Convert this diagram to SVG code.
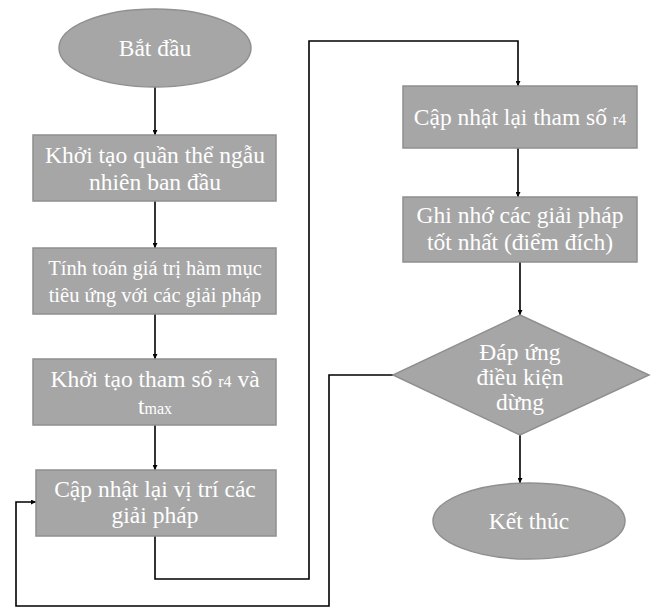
<svg xmlns="http://www.w3.org/2000/svg" width="656" height="607" viewBox="0 0 656 607">
<defs>
<marker id="ah" viewBox="0 0 10 10" refX="10" refY="5" markerWidth="5" markerHeight="5" orient="auto" markerUnits="userSpaceOnUse">
<path d="M0,0 L10,5 L0,10 z" fill="#000"/>
</marker>
<style>
.sh{fill:#a6a6a6;stroke:#8f8f8f;stroke-width:1.5}
.t{font-family:"Liberation Serif","Times New Roman",serif;fill:#fff;text-anchor:middle;font-size:23.5px}
.s{font-size:16px}
.c{fill:none;stroke:#000;stroke-width:1.6}
</style>
</defs>
<rect width="656" height="607" fill="#fff"/>
<g id="connectors">
<path class="c" d="M155,87 V135" marker-end="url(#ah)"/>
<path class="c" d="M155,201 V248" marker-end="url(#ah)"/>
<path class="c" d="M155,314 V359" marker-end="url(#ah)"/>
<path class="c" d="M155,425 V470" marker-end="url(#ah)"/>
<path class="c" d="M155,536 V579 H309 V41 H518 V86" marker-end="url(#ah)"/>
<path class="c" d="M518,148 V197" marker-end="url(#ah)"/>
<path class="c" d="M520,262 V315" marker-end="url(#ah)"/>
<path class="c" d="M520,435 V483" marker-end="url(#ah)"/>
<path class="c" d="M393,375 H329 V606 H16 V502 H36" marker-end="url(#ah)"/>
</g>
<g id="start">
<ellipse class="sh" cx="155" cy="48" rx="96" ry="39"/>
<text class="t" x="155" y="56">Bắt đầu</text>
</g>
<g id="init-pop">
<rect class="sh" x="33" y="135" width="243" height="66"/>
<text class="t" x="155" y="163">Khởi tạo quần thể ngẫu</text>
<text class="t" x="155" y="190">nhiên ban đầu</text>
</g>
<g id="eval">
<rect class="sh" x="33" y="248" width="243" height="66"/>
<text class="t" x="155" y="275" style="font-size:20.5px">Tính toán giá trị hàm mục</text>
<text class="t" x="155" y="302" style="font-size:20.5px">tiêu ứng với các giải pháp</text>
</g>
<g id="init-param">
<rect class="sh" x="33" y="359" width="243" height="66"/>
<text class="t" x="155" y="387">Khởi tạo tham số <tspan class="s">r4</tspan> và</text>
<text class="t" x="155" y="414"><tspan>t</tspan><tspan class="s">max</tspan></text>
</g>
<g id="update-pos">
<rect class="sh" x="36" y="470" width="240" height="66"/>
<text class="t" x="155" y="497">Cập nhật lại vị trí các</text>
<text class="t" x="155" y="523">giải pháp</text>
</g>
<g id="update-r4">
<rect class="sh" x="403" y="86" width="234" height="62"/>
<text class="t" x="520" y="125">Cập nhật lại tham số <tspan class="s">r4</tspan></text>
</g>
<g id="best">
<rect class="sh" x="403" y="197" width="234" height="65"/>
<text class="t" x="520" y="223">Ghi nhớ các giải pháp</text>
<text class="t" x="520" y="250">tốt nhất (điểm đích)</text>
</g>
<g id="stop-cond">
<polygon class="sh" points="520,315 649,375 520,435 393,375"/>
<text class="t" x="520" y="360">Đáp ứng</text>
<text class="t" x="520" y="385">điều kiện</text>
<text class="t" x="520" y="410">dừng</text>
</g>
<g id="end">
<ellipse class="sh" cx="529" cy="521" rx="96" ry="38"/>
<text class="t" x="529" y="529">Kết thúc</text>
</g>
</svg>
